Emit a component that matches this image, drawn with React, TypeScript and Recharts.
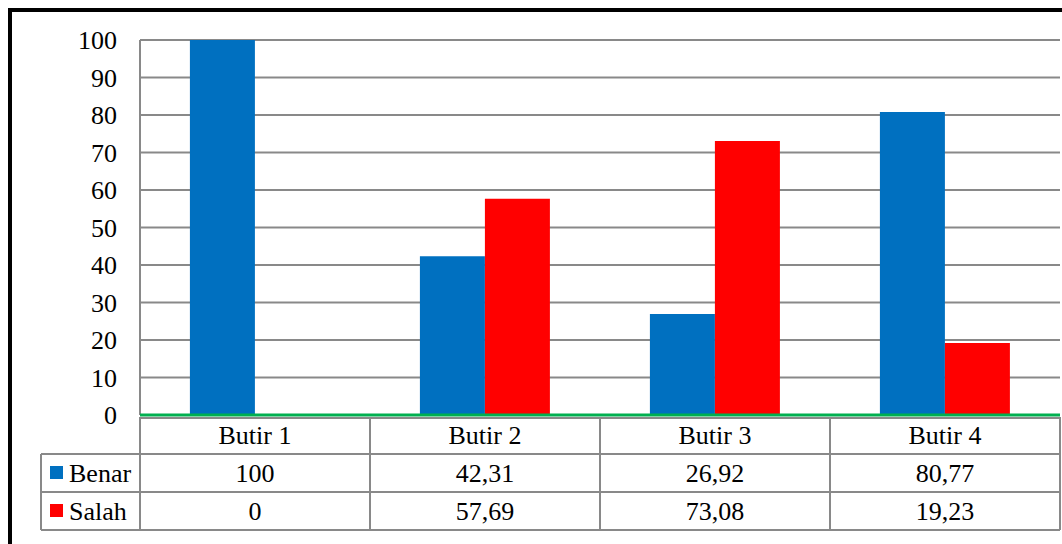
import React from "react";
import { BarChart, Bar, XAxis, YAxis, CartesianGrid } from "recharts";

const categories = ["Butir 1", "Butir 2", "Butir 3", "Butir 4"];
const benar = [100, 42.31, 26.92, 80.77];
const salah = [0, 57.69, 73.08, 19.23];
const benarLabels = ["100", "42,31", "26,92", "80,77"];
const salahLabels = ["0", "57,69", "73,08", "19,23"];
const yTicks = [0, 10, 20, 30, 40, 50, 60, 70, 80, 90, 100];

const data = categories.map((name, i) => ({
  name,
  Benar: benar[i],
  Salah: salah[i],
}));

const BLUE = "#0070C0";
const RED = "#FF0000";
const GRID = "#898989";
const FONT = '"Liberation Serif", "Times New Roman", Tinos, "DejaVu Serif", serif';

const CHART_W = 1054;
const MARGIN = { top: 32, right: 2, left: 0, bottom: 0 };
const Y_W = 132;
const CELL_W = (CHART_W - MARGIN.left - MARGIN.right - Y_W) / categories.length;
const ROW_H = 38;

// draws one column of the data table under each category
const TableTick = (props: any) => {
  const { x, y, payload } = props;
  const i = payload.index;
  const left = x - CELL_W / 2;
  const right = x + CELL_W / 2;
  const top = y + 2;
  const r1 = top + ROW_H - 1;
  const r2 = r1 + ROW_H;
  const r3 = r2 + ROW_H;
  const lineProps = { stroke: GRID, strokeWidth: 2 };
  const textProps = {
    style: { fontFamily: FONT },
    fontSize: 26,
    fill: "#000",
    textAnchor: "middle" as const,
    dominantBaseline: "central" as const,
  };
  const legLeft = 33;
  return (
    <g>
      <line x1={left} x2={right} y1={top + 1} y2={top + 1} {...lineProps} />
      <line x1={left} x2={right} y1={r1} y2={r1} {...lineProps} />
      <line x1={left} x2={right} y1={r2} y2={r2} {...lineProps} />
      <line x1={left} x2={right} y1={r3} y2={r3} {...lineProps} />
      <line x1={left} x2={left} y1={top} y2={r3} {...lineProps} />
      <line x1={right} x2={right} y1={top} y2={r3} {...lineProps} />
      <text x={x} y={(top + r1) / 2} {...textProps}>{payload.value}</text>
      <text x={x} y={(r1 + r2) / 2} {...textProps}>{benarLabels[i]}</text>
      <text x={x} y={(r2 + r3) / 2} {...textProps}>{salahLabels[i]}</text>
      {i === 0 && (
        <g>
          <line x1={legLeft} x2={left} y1={r1} y2={r1} {...lineProps} />
          <line x1={legLeft} x2={left} y1={r2} y2={r2} {...lineProps} />
          <line x1={legLeft} x2={left} y1={r3} y2={r3} {...lineProps} />
          <line x1={legLeft} x2={legLeft} y1={r1} y2={r3} {...lineProps} />
          <rect x={legLeft + 9} y={(r1 + r2) / 2 - 7} width={13} height={13} fill={BLUE} />
          <rect x={legLeft + 9} y={(r2 + r3) / 2 - 7} width={13} height={13} fill={RED} />
          <text {...textProps} textAnchor="start" x={legLeft + 28} y={(r1 + r2) / 2}>Benar</text>
          <text {...textProps} textAnchor="start" x={legLeft + 28} y={(r2 + r3) / 2}>Salah</text>
        </g>
      )}
    </g>
  );
};

export default function App() {
  return (
    <div style={{ position: "relative", width: 1062, height: 544, background: "#fff", fontFamily: FONT }}>
      <style>{"html,body{margin:0;padding:0;overflow:hidden;}"}</style>
      <div style={{ position: "absolute", left: 8, top: 8 }}>
        <BarChart
          width={CHART_W}
          height={528}
          data={data}
          margin={MARGIN}
          barCategoryGap="21.7%"
          barGap={0}
          style={{ fontFamily: FONT }}
        >
          <CartesianGrid vertical={false} stroke={GRID} strokeWidth={2} />
          <YAxis
            width={Y_W}
            domain={[0, 100]}
            ticks={yTicks}
            interval={0}
            tickLine={false}
            tickSize={0}
            tickMargin={23}
            axisLine={{ stroke: GRID, strokeWidth: 2 }}
            tick={{ fontSize: 26, fill: "#000", style: { fontFamily: FONT } }}
          />
          <XAxis
            dataKey="name"
            height={121}
            interval={0}
            tickLine={false}
            tickSize={0}
            tickMargin={0}
            axisLine={{ stroke: "#00B050", strokeWidth: 3 }}
            tick={<TableTick />}
          />
          <Bar dataKey="Benar" fill={BLUE} isAnimationActive={false} />
          <Bar dataKey="Salah" fill={RED} isAnimationActive={false} />
        </BarChart>
      </div>
      <div
        style={{
          position: "absolute",
          left: 8,
          top: 8,
          right: 0,
          bottom: 0,
          borderTop: "4px solid #000",
          borderLeft: "4px solid #000",
          pointerEvents: "none",
        }}
      />
    </div>
  );
}
